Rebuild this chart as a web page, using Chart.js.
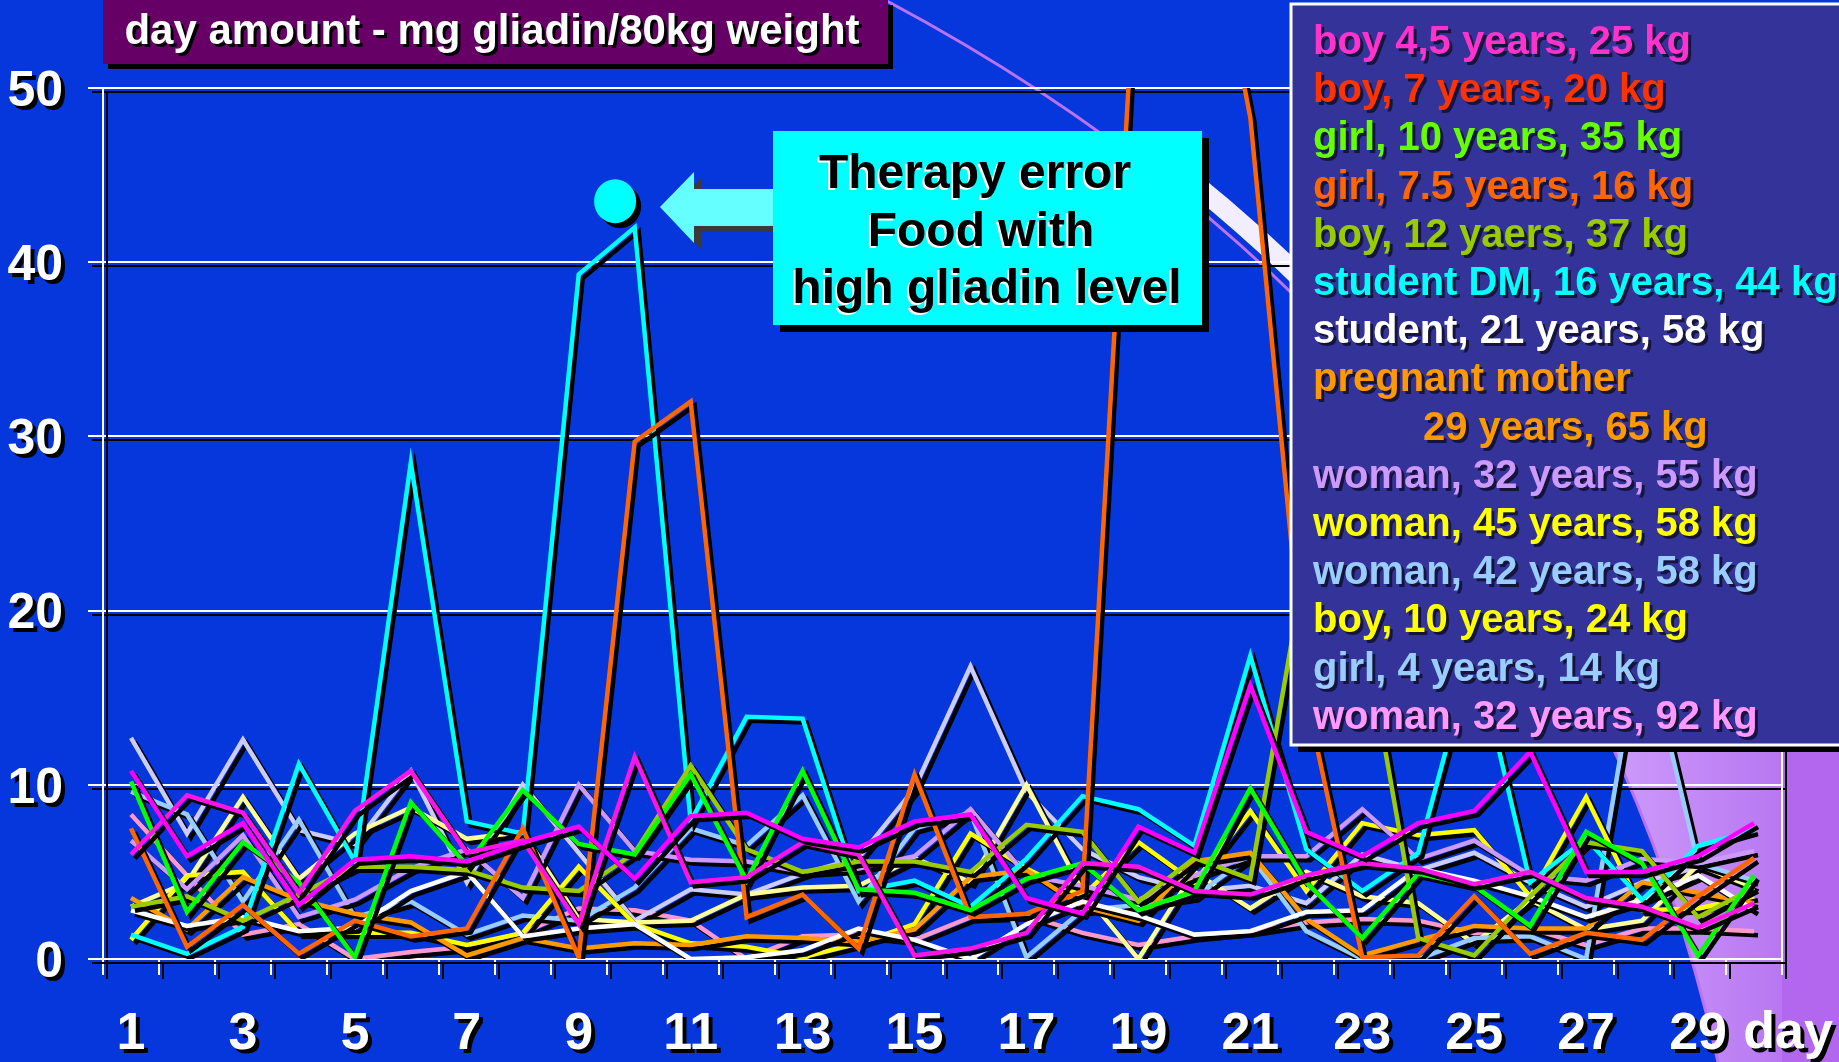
<!DOCTYPE html>
<html>
<head>
<meta charset="utf-8">
<title>day amount - mg gliadin/80kg weight</title>
<script src="https://cdn.jsdelivr.net/npm/chart.js@4.4.1/dist/chart.umd.min.js"></script>
<style>
    html, body { margin: 0; padding: 0; background: #0537dd; overflow: hidden; }
    canvas { display: block; }
</style>
</head>
<body>
<canvas id="gliadinChart" width="1839" height="1062"></canvas>
<script>
// Jours du relevé
const days = ['1', '2', '3', '4', '5', '6', '7', '8', '9', '10',
              '11', '12', '13', '14', '15', '16', '17', '18', '19', '20',
              '21', '22', '23', '24', '25', '26', '27', '28', '29', '30'];

// mg gliadin / 80 kg weight, une série par personne
const boy45     = [10.8, 5.9, 7.8, 3.1, 5.7, 5.9, 5.6, 6.7, 7.6, 4.6, 8.2, 8.4, 6.9, 6.4, 7.9, 8.3, 3.5, 2.6, 7.6, 6.1, 15.7, 7.3, 5.9, 7.8, 8.5, 11.9, 5.0, 5.0, 5.9, 7.8];
const boy7      = [6.0, 9.4, 8.4, 3.8, 8.5, 10.8, 6.1, 6.8, 2.0, 11.6, 4.4, 4.7, 6.7, 6.0, 0.2, 0.6, 1.5, 5.5, 5.3, 3.9, 3.7, 4.8, 5.5, 5.2, 4.3, 5.0, 3.5, 3.0, 1.8, 3.2];
const girl10    = [10.2, 2.7, 6.7, 4.4, 0.1, 9.0, 5.4, 9.7, 6.6, 6.0, 10.6, 4.5, 10.8, 4.0, 3.8, 2.8, 4.6, 5.5, 2.8, 3.9, 9.8, 4.4, 1.2, 4.9, 4.2, 1.9, 7.3, 5.5, 0.2, 4.8];
const girl75    = [7.5, 0.7, 3.1, 0.3, 2.2, 1.3, 1.75, 7.5, 0.1, 29.7, 32.0, 2.4, 3.7, 0.6, 10.6, 2.4, 2.6, 3.9, 60, 65, 48.3, 15.0, 0.1, 0.2, 3.6, 0.3, 1.5, 1.1, 3.6, 5.8];
const boy12     = [3.0, 3.6, 2.2, 3.7, 5.3, 5.3, 5.1, 4.1, 3.9, 6.1, 11.1, 6.3, 5.0, 5.6, 5.6, 5.0, 7.7, 7.3, 3.3, 5.8, 4.6, 23.0, 19.5, 1.2, 0.2, 3.6, 6.7, 6.2, 2.4, 4.1];
const studentDM = [1.4, 0.3, 1.85, 11.2, 5.6, 28.5, 7.9, 7.2, 39.3, 42.0, 7.9, 13.9, 13.8, 3.9, 4.5, 3.0, 5.75, 9.35, 8.6, 6.5, 17.4, 6.3, 3.9, 6.1, 18.0, 4.4, 6.9, 3.4, 6.5, 7.4];
const student21 = [2.8, 1.9, 2.4, 1.6, 1.8, 3.9, 5.0, 1.3, 1.75, 2.0, 0.0, 0.1, 0.5, 1.75, 1.1, 0.0, 2.0, 3.3, 2.5, 1.4, 1.6, 2.7, 2.8, 5.2, 4.5, 3.6, 2.4, 3.4, 4.8, 2.8];
const pregnant  = [3.5, 1.7, 4.7, 3.4, 2.6, 2.1, 0.2, 1.2, 0.6, 0.9, 0.8, 1.3, 1.2, 1.0, 1.7, 4.7, 5.1, 3.0, 2.2, 5.6, 6.1, 2.3, 0.2, 1.1, 1.9, 1.75, 1.75, 4.4, 3.8, 3.2];
const woman32a  = [6.8, 4.0, 7.1, 2.4, 3.4, 5.2, 6.3, 3.5, 10.0, 6.2, 5.7, 5.6, 5.0, 5.2, 5.9, 8.6, 4.8, 4.2, 3.4, 4.8, 5.9, 5.9, 8.6, 5.75, 6.8, 4.8, 4.5, 5.75, 5.5, 6.2];
const woman45   = [1.1, 4.8, 5.0, 1.5, 1.5, 1.5, 0.8, 1.5, 5.3, 2.0, 0.9, 0.7, 0.1, 0.9, 2.0, 7.2, 5.2, 3.6, 6.7, 4.4, 8.5, 3.9, 7.8, 7.1, 7.4, 3.6, 9.3, 2.8, 2.9, 3.6];
const woman42   = [9.6, 8.3, 3.3, 8.0, 2.4, 3.3, 1.4, 2.5, 2.2, 4.1, 7.5, 6.5, 9.4, 3.3, 7.5, 8.4, 0.1, 2.8, 3.1, 3.6, 5.9, 1.6, 0.0, 0.0, 1.2, 1.3, 0.0, 19.0, 5.5, 4.5];
const boy10     = [3.0, 4.4, 9.3, 4.6, 7.2, 8.7, 6.9, 7.3, 2.3, 2.1, 2.2, 3.7, 4.1, 4.2, 5.8, 4.4, 10.0, 3.9, 0.0, 5.0, 2.9, 5.0, 3.6, 3.2, 0.9, 3.4, 1.7, 2.2, 5.4, 4.1];
const girl4     = [12.7, 7.2, 12.6, 7.4, 6.6, 10.8, 4.4, 10.0, 6.1, 2.2, 4.0, 3.7, 4.9, 5.8, 9.8, 16.8, 9.6, 6.3, 4.7, 3.9, 4.2, 3.2, 6.0, 5.1, 6.1, 4.4, 3.0, 4.4, 5.3, 4.1];
const woman32b  = [8.3, 4.8, 1.4, 2.0, 0.0, 0.4, 0.7, 1.5, 2.9, 2.8, 2.2, 0.0, 1.3, 1.4, 1.1, 2.4, 2.5, 1.5, 0.8, 1.3, 1.6, 2.1, 2.3, 2.2, 1.5, 1.75, 0.8, 1.75, 1.75, 1.6];

// Légende (texte de la diapositive)
const legendLabels = [
    'boy 4,5 years, 25 kg',
    'boy, 7 years, 20 kg',
    'girl, 10 years, 35 kg',
    'girl, 7.5 years, 16 kg',
    'boy, 12 yaers, 37 kg',
    'student DM, 16 years, 44 kg',
    'student, 21 years, 58 kg',
    'pregnant mother\n29 years, 65 kg',
    'woman, 32 years, 55 kg',
    'woman, 45 years, 58 kg',
    'woman, 42 years, 58 kg',
    'boy, 10 years, 24 kg',
    'girl, 4 years, 14 kg',
    'woman, 32 years, 92 kg'
];
const legendColors = ['#ff33cc', '#ff3300', '#66ff00', '#ff6600', '#99cc00', '#00ffff', '#ffffff',
                      '#ff9900', '#cc99ff', '#ffff00', '#99ccff', '#ffff00', '#99ccff', '#ff99ff'];

const seriesData = [boy45, boy7, girl10, girl75, boy12, studentDM, student21,
                    pregnant, woman32a, woman45, woman42, boy10, girl4, woman32b];
const lineColors = ['#ff00ff', '#ff14e6', '#00ff00', '#ff6600', '#99cc00', '#00ffff', '#ffffff',
                    '#ff9900', '#cc99ff', '#ffff00', '#99ccff', '#ffff99', '#ccccff', '#ff99cc'];

const chartTitle = 'day amount - mg gliadin/80kg weight';
const noteLines = ['Therapy error', 'Food with', 'high gliadin level'];
// point marqué par la note (jour, valeur)
const markerDay = 9.65;
const markerValue = 43.5;

const BLUE = '#0537dd';
const NARROW = '"Liberation Sans Narrow", "Arial Narrow", "Liberation Sans", Arial, sans-serif';
const SANS = '"Liberation Sans", Arial, sans-serif';

function noShadow(c) {
    c.shadowColor = 'rgba(0,0,0,0)';
    c.shadowOffsetX = 0;
    c.shadowOffsetY = 0;
    c.shadowBlur = 0;
}

function curve(c, dx, dy) {
    c.moveTo(885 + dx, 0 + dy);
    c.bezierCurveTo(1290 + dx, 215 + dy, 1605 + dx, 560 + dy, 1718 + dx, 1062 + dy);
}

// Décor violet de la diapositive (en bas à droite)
function drawSwoosh(c, chart) {
    const W = chart.width, H = chart.height, a = chart.chartArea;
    c.save();
    c.beginPath();
    c.rect(0, 560, W, H - 560);
    c.clip();
    c.beginPath();
    curve(c, 0, 0);
    c.lineTo(W, H);
    c.lineTo(W, 0);
    c.closePath();
    const g = c.createLinearGradient(1620, 0, a.right, 0);
    g.addColorStop(0, '#cc99fa');
    g.addColorStop(1, '#b877f2');
    c.fillStyle = g;
    c.fill();
    c.fillStyle = '#b366ee';
    c.fillRect(a.right, 560, W - a.right, H - 560);
    c.restore();

    // bande blanche entre la note et la légende
    c.save();
    c.beginPath();
    c.rect(1000, 140, 300, 200);
    c.clip();
    c.beginPath();
    curve(c, 12, -12);
    c.strokeStyle = '#f2eeff';
    c.lineWidth = 20;
    c.stroke();
    c.restore();

    c.save();
    c.beginPath();
    curve(c, 0, 0);
    c.strokeStyle = '#bb72f0';
    c.lineWidth = 3;
    c.stroke();
    c.restore();
}

function drawTitle(c) {
    c.save();
    c.fillStyle = '#000';
    c.fillRect(108, 5, 785, 64);
    c.fillStyle = '#660066';
    c.fillRect(103, 0, 785, 64);
    c.font = 'bold 42px ' + SANS;
    c.textAlign = 'center';
    c.textBaseline = 'alphabetic';
    c.shadowColor = '#000';
    c.shadowOffsetX = 3;
    c.shadowOffsetY = 3;
    c.fillStyle = '#fff';
    c.fillText(chartTitle, 492, 44);
    c.restore();
}

function drawLegendBox(c) {
    c.save();
    c.fillStyle = '#000';
    c.fillRect(1298, 11, 600, 741);
    c.fillStyle = '#333399';
    c.fillRect(1291, 4, 600, 741);
    c.strokeStyle = '#fff';
    c.lineWidth = 3;
    c.strokeRect(1291, 4, 600, 741);
    c.font = 'bold 40px ' + SANS;
    c.textAlign = 'left';
    c.shadowColor = 'rgba(0,0,0,0.6)';
    c.shadowOffsetX = 3;
    c.shadowOffsetY = 3;
    let row = 0;
    legendLabels.forEach((label, i) => {
        label.split('\n').forEach((part, k) => {
            c.fillStyle = legendColors[i];
            c.fillText(part, k === 0 ? 1313 : 1423, 54 + row * 48.2);
            row++;
        });
    });
    c.restore();
}

function drawNote(c, chart) {
    c.save();
    // flèche
    c.shadowColor = '#3a3a3a';
    c.shadowOffsetX = 7;
    c.shadowOffsetY = 6;
    c.fillStyle = '#66ffff';
    c.beginPath();
    c.moveTo(660, 207);
    c.lineTo(694, 172);
    c.lineTo(694, 189);
    c.lineTo(775, 189);
    c.lineTo(775, 226);
    c.lineTo(694, 226);
    c.lineTo(694, 243);
    c.closePath();
    c.fill();

    // cadre
    noShadow(c);
    c.fillStyle = '#000';
    c.fillRect(780, 138, 429, 194);
    c.fillStyle = '#00ffff';
    c.fillRect(773, 131, 429, 194);
    c.font = 'bold 48px ' + SANS;
    c.textAlign = 'center';
    c.shadowColor = '#ffffff';
    c.shadowOffsetX = -2;
    c.shadowOffsetY = 2;
    c.fillStyle = '#000';
    noteLines.forEach((t, i) => c.fillText(t, 975 + i * 6, 188 + i * 57.5));

    // point marqué
    const x = chart.scales.x.getPixelForValue(markerDay - 1);
    const y = chart.scales.y.getPixelForValue(markerValue);
    c.shadowColor = '#000';
    c.shadowOffsetX = 5;
    c.shadowOffsetY = 5;
    c.fillStyle = '#00ffff';
    c.beginPath();
    c.ellipse(x, y, 21, 22, 0, 0, Math.PI * 2);
    c.fill();
    c.restore();
}

const slidePlugin = {
    id: 'slide',
    beforeDraw(chart) {
        const c = chart.ctx;
        noShadow(c);
        c.fillStyle = BLUE;
        c.fillRect(0, 0, chart.width, chart.height);
        drawSwoosh(c, chart);
        // tout ce que le graphique dessine ensuite a l'ombre noire
        c.shadowColor = '#000';
        c.shadowOffsetX = 4;
        c.shadowOffsetY = 4;
    },
    beforeDatasetsDraw(chart) {
        const c = chart.ctx, a = chart.chartArea;
        c.save();
        c.strokeStyle = '#fff';
        c.lineWidth = 2;
        c.strokeRect(a.left, a.top, a.right - a.left, a.bottom - a.top);
        c.restore();
    },
    afterDraw(chart) {
        const c = chart.ctx;
        c.save();
        c.font = 'bold 52px ' + NARROW;
        c.textAlign = 'center';
        c.textBaseline = 'middle';
        c.fillStyle = '#fff';
        c.fillText('day', 1788, 1034);
        c.restore();
        noShadow(c);
        drawTitle(c);
        drawLegendBox(c);
        drawNote(c, chart);
    }
};

const ctx = document.getElementById('gliadinChart').getContext('2d');
const gliadinChart = new Chart(ctx, {
    type: 'line',
    data: {
        labels: days,
        datasets: seriesData.map((values, i) => ({
            label: legendLabels[i],
            data: values,
            borderColor: lineColors[i],
            backgroundColor: lineColors[i],
            borderWidth: 4.5,
            borderJoinStyle: 'miter',
            pointRadius: 0,
            tension: 0,
            fill: false
        }))
    },
    options: {
        responsive: false,
        animation: false,
        devicePixelRatio: 1,
        layout: {
            padding: { top: 88, right: 57, left: 0, bottom: 0 }
        },
        plugins: {
            legend: { display: false },
            tooltip: { enabled: false },
            title: { display: false }
        },
        scales: {
            x: {
                type: 'category',
                offset: true,
                afterFit: (scale) => { scale.height = 103; },
                grid: {
                    offset: true,
                    drawOnChartArea: false,
                    color: '#fff',
                    lineWidth: 2,
                    tickLength: 16
                },
                border: { color: '#fff', width: 2 },
                ticks: {
                    autoSkip: false,
                    maxRotation: 0,
                    padding: 28,
                    color: '#fff',
                    font: { family: NARROW, size: 52, weight: 'bold' },
                    callback: (value, index) => (index % 2 === 0 ? days[index] : '')
                }
            },
            y: {
                min: 0,
                max: 50,
                afterFit: (scale) => { scale.width = 103; },
                grid: {
                    color: '#fff',
                    lineWidth: 2,
                    tickLength: 15
                },
                border: { color: '#fff', width: 2 },
                ticks: {
                    stepSize: 10,
                    padding: 25,
                    labelOffset: 4,
                    color: '#fff',
                    font: { family: NARROW, size: 50, weight: 'bold' }
                }
            }
        }
    },
    plugins: [slidePlugin]
});
</script>
</body>
</html>
